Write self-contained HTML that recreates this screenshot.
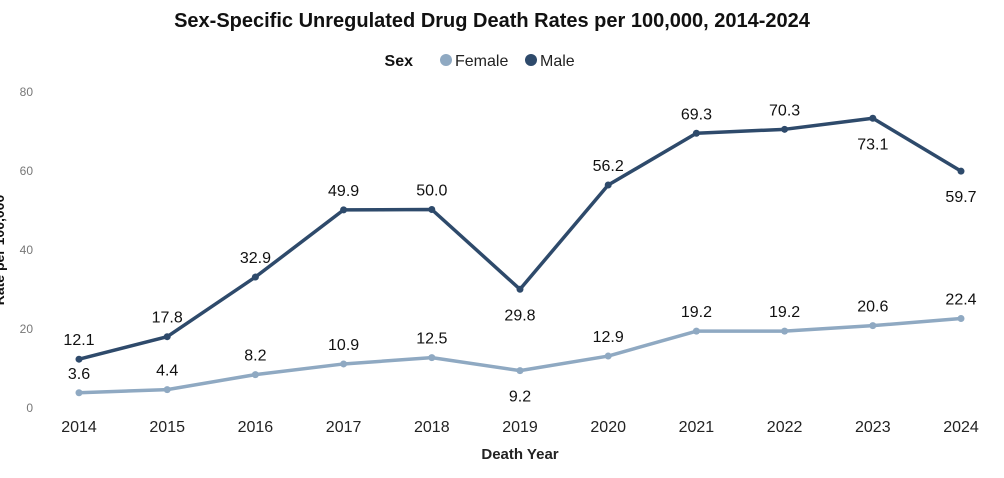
<!DOCTYPE html>
<html><head><meta charset="utf-8"><style>
body{margin:0;background:#fff;width:1004px;height:473px;overflow:hidden;font-family:"Liberation Sans","DejaVu Sans",sans-serif}
</style></head><body>
<svg id="chart" width="1004" height="473" xmlns="http://www.w3.org/2000/svg">
<text x="492" y="27" text-anchor="middle" font-size="20" font-weight="bold" fill="#111">Sex-Specific Unregulated Drug Death Rates per 100,000, 2014-2024</text>
<g>
<text x="413" y="66" text-anchor="end" font-size="16" font-weight="bold" fill="#111">Sex</text>
<circle cx="446" cy="60" r="6" fill="#8fa9c2"/>
<text x="455" y="66" font-size="16" fill="#222">Female</text>
<circle cx="531" cy="60" r="6" fill="#2e4a6b"/>
<text x="540" y="66" font-size="16" fill="#222">Male</text>
</g>
<text transform="translate(4,250) rotate(-90)" text-anchor="middle" font-size="14" font-weight="bold" fill="#111">Rate per 100,000</text>
<text x="520" y="459" text-anchor="middle" font-size="15" font-weight="bold" fill="#222">Death Year</text>
<g id="axes"></g>
<g id="series"></g>
</svg>
<script>
const years=[2014,2015,2016,2017,2018,2019,2020,2021,2022,2023,2024];
const male=[12.1,17.8,32.9,49.9,50.0,29.8,56.2,69.3,70.3,73.1,59.7];
const female=[3.6,4.4,8.2,10.9,12.5,9.2,12.9,19.2,19.2,20.6,22.4];
const yTicks=[0,20,40,60,80];
const maleBelow=[2019,2023,2024];
const femaleBelow=[2019];
const NS="http://www.w3.org/2000/svg";
const xs=i=>79+i*(961-79)/(years.length-1);
const ys=v=>407-v*3.95;
const axes=document.getElementById('axes'),series=document.getElementById('series');
function mk(t,a,p){const e=document.createElementNS(NS,t);for(const k in a)e.setAttribute(k,a[k]);p.appendChild(e);return e;}
yTicks.forEach(v=>{const t=mk('text',{x:33,y:ys(v)+5,'text-anchor':'end','font-size':12,fill:'#777'},axes);


t.textContent=v;});
years.forEach((y,i)=>{const t=mk('text',{x:xs(i),y:432,'text-anchor':'middle','font-size':16,fill:'#222'},axes);


t.textContent=y;});
function draw(vals,color,name,below){
const p=mk('polyline',{points:vals.map((v,i)=>xs(i)+','+ys(v)).join(' '),fill:'none',stroke:color,'stroke-width':3.5,'stroke-linejoin':'round'},series);


vals.forEach((v,i)=>{const c=mk('circle',{cx:xs(i),cy:ys(v),r:3.5,fill:color},series);


const b=below.includes(years[i]);
const t=mk('text',{x:xs(i),y:b?ys(v)+31:ys(v)-14,'text-anchor':'middle','font-size':16,fill:'#111'},series);


t.textContent=v.toFixed(1);});
}
draw(female,'#8fa9c2','female',femaleBelow);
draw(male,'#2e4a6b','male',maleBelow);
</script>
</body></html>
